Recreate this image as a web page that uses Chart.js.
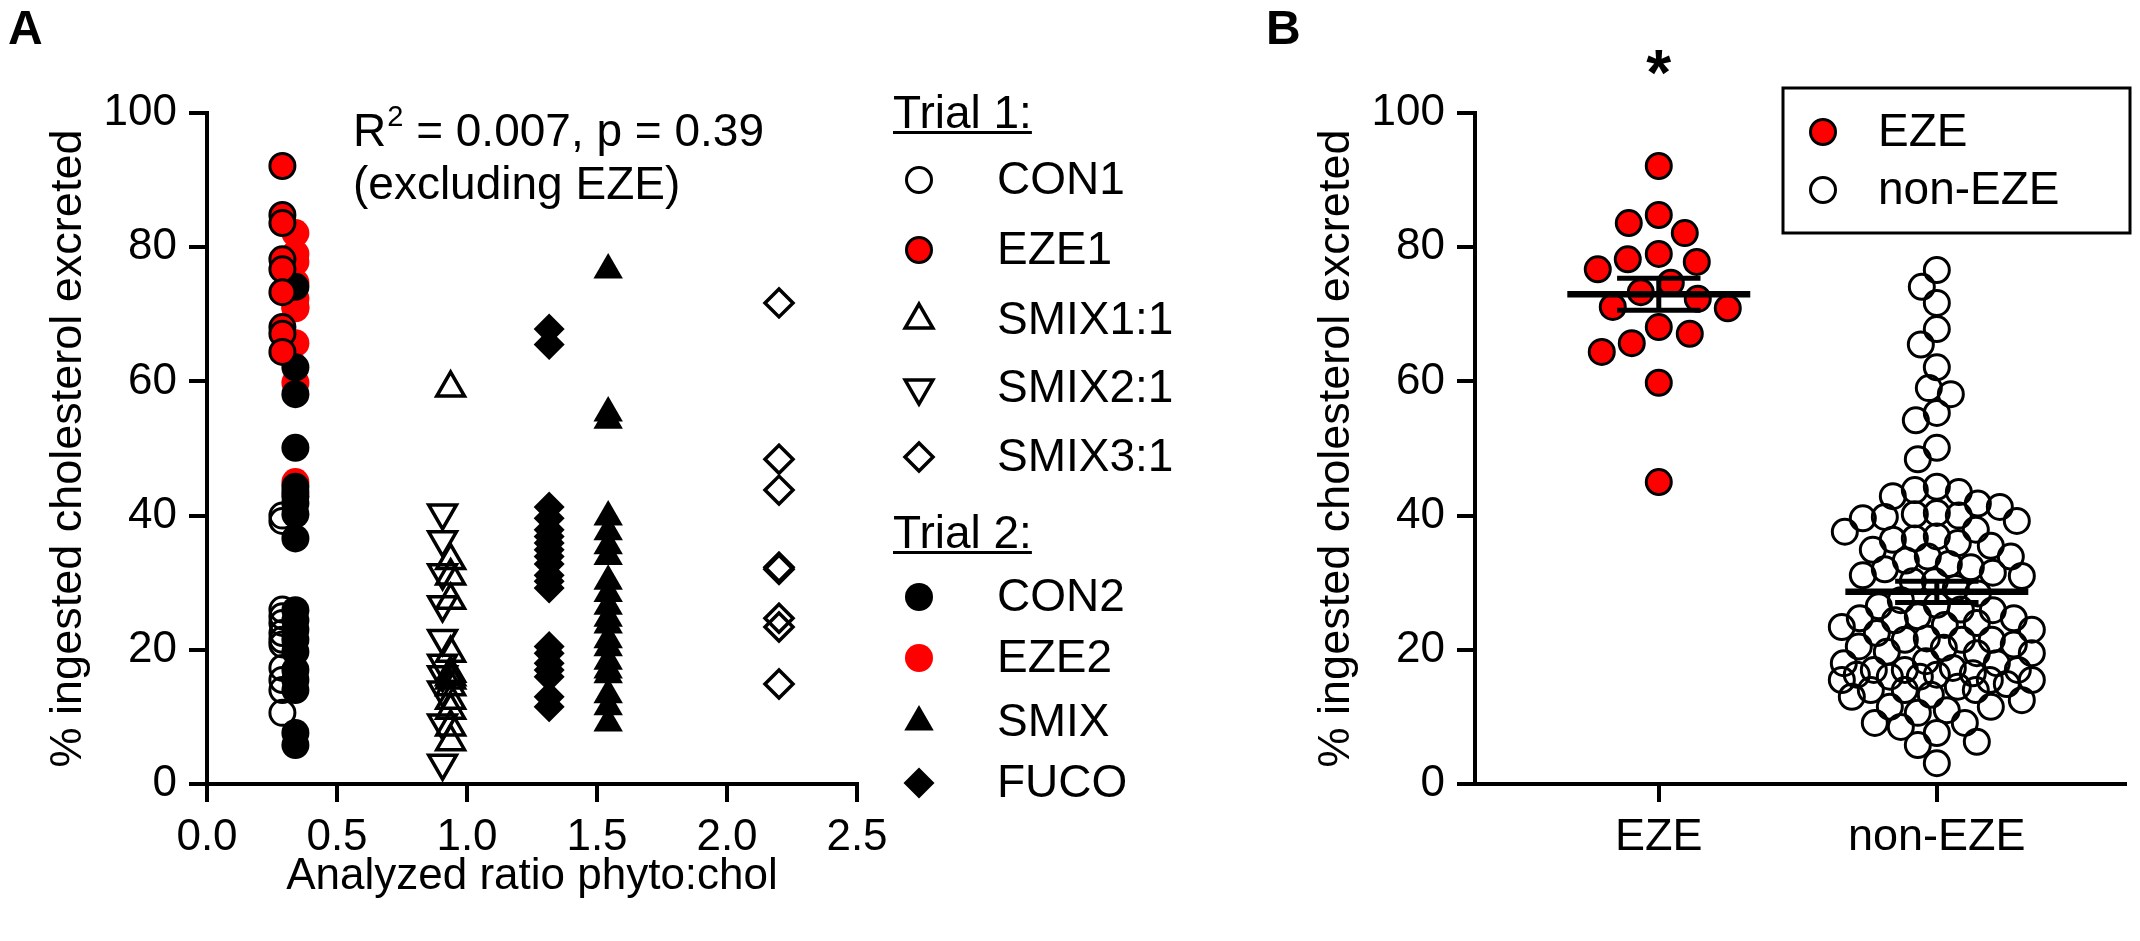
<!DOCTYPE html>
<html>
<head>
<meta charset="utf-8">
<script src="https://cdn.jsdelivr.net/npm/chart.js@4.4.1/dist/chart.umd.min.js"></script>
<style>
  html, body { margin: 0; padding: 0; background: #fff; overflow: hidden; }
  canvas { position: absolute; top: 0; }
  #chartA { left: 0; }
  #chartB { left: 1240px; }
</style>
</head>
<body>
<canvas id="chartA" width="1240" height="941"></canvas>
<canvas id="chartB" width="900" height="941"></canvas>
<script>
// ---------- data ----------
// Panel A: analyzed phyto:chol ratio of each diet group
var groupNames  = ["CON1", "EZE1", "SMIX1:1", "SMIX2:1", "SMIX3:1", "CON2", "EZE2", "SMIX", "FUCO"];
var groupRatios = [0.29, 0.29, 0.937, 0.906, 2.2, 0.34, 0.34, 1.543, 1.316];

// % ingested cholesterol excreted, per mouse
var con1   = [40.0, 39.2, 26.0, 25.0, 24.0, 22.5, 21.5, 20.8, 17.3, 15.5, 14.0, 10.6];
var eze1   = [92.1, 84.8, 83.6, 78.2, 76.7, 73.3, 68.1, 67.1, 64.4];
var smix11 = [59.0, 33.3, 31.0, 27.4, 19.5, 16.5, 16.0, 15.5, 14.5, 12.5, 11.0, 8.5, 6.3];
var smix21 = [40.4, 36.4, 31.5, 26.7, 21.7, 18.0, 16.3, 14.0, 9.1, 3.1];
var smix31 = [71.7, 48.4, 43.8, 32.3, 32.0, 24.7, 23.4, 14.9];
var con2   = [74.1, 62.1, 58.1, 50.1, 44.3, 43.5, 42.9, 41.8, 40.2, 36.6, 25.9, 24.4, 23.0, 21.5, 19.7, 17.0, 15.5, 14.0, 7.6, 5.8];
var eze2   = [82.1, 79.0, 77.8, 74.7, 72.3, 71.1, 70.9, 65.7, 59.8, 45.0];
var smix   = [76.6, 55.3, 54.2, 39.8, 37.6, 35.5, 33.9, 30.2, 28.4, 26.5, 24.7, 23.7, 21.5, 20.3, 18.3, 17.0, 16.3, 13.3, 11.5, 9.1];
var fuco   = [67.8, 65.5, 41.3, 39.6, 37.9, 36.9, 35.9, 34.9, 33.9, 32.8, 31.1, 30.2, 29.2, 20.5, 19.5, 18.0, 17.0, 16.0, 13.0, 11.5];

var xTicksA      = [0, 0.5, 1, 1.5, 2, 2.5];
var xTickLabelsA = ["0.0", "0.5", "1.0", "1.5", "2.0", "2.5"];
var yTicks       = [0, 20, 40, 60, 80, 100];

// Panel B
var categoriesB  = ["EZE", "non-EZE"];
var ezeValues    = eze1.concat(eze2);
var nonEzeValues = con1.concat(con2, smix11, smix21, smix31, smix, fuco);

var statsText = ["R", "2", " = 0.007, p = 0.39", "(excluding EZE)"];

// ---------- styles ----------
var RED = "#ff0000";
var FONT = '"Liberation Sans", Arial, Helvetica, sans-serif';
Chart.defaults.font.family = FONT;
Chart.defaults.font.size = 44;
Chart.defaults.color = "#000";

var groupStyles = [
  { pointStyle: "circle",   radius: 12.5, backgroundColor: "rgba(0,0,0,0)", borderWidth: 3 },
  { pointStyle: "circle",   radius: 12.5, backgroundColor: RED,             borderWidth: 3 },
  { pointStyle: "triangle", radius: 16,   backgroundColor: "rgba(0,0,0,0)", borderWidth: 3.5 },
  { pointStyle: "triangle", radius: 16,   backgroundColor: "rgba(0,0,0,0)", borderWidth: 3.5, rotation: 180 },
  { pointStyle: "rectRot",  radius: 14,   backgroundColor: "rgba(0,0,0,0)", borderWidth: 3.5 },
  { pointStyle: "circle",   radius: 14,   backgroundColor: "#000",          borderWidth: 0 },
  { pointStyle: "circle",   radius: 14,   backgroundColor: RED,             borderWidth: 0 },
  { pointStyle: "triangle", radius: 17,   backgroundColor: "#000",          borderWidth: 0 },
  { pointStyle: "rectRot",  radius: 15.5, backgroundColor: "#000",          borderWidth: 0 }
];
// drawing order (lower = on top)
var groupOrder = [4, 0, 3, 3, 3, 1, 2, 2, 2];
var groupValues = [con1, eze1, smix11, smix21, smix31, con2, eze2, smix, fuco];

function axisY(width, titlePad) {
  return {
    type: "linear", min: 0, max: 100,
    afterBuildTicks: function (s) { s.ticks = yTicks.map(function (v) { return { value: v }; }); },
    afterFit: function (s) { s.width = width; },
    ticks: { padding: 12, font: { size: 44 } },
    grid: { drawOnChartArea: false, drawTicks: true, tickLength: 18, lineWidth: 4, color: "#000" },
    border: { display: true, width: 4, color: "#000" },
    title: { display: true, text: "% ingested cholesterol excreted", font: { size: 45 }, padding: { top: titlePad, bottom: 0 } }
  };
}

function symbol(ctx, s, x, y) {
  var r = s.radius, rot = (s.rotation || 0) * Math.PI / 180;
  ctx.save();
  ctx.beginPath();
  if (s.pointStyle === "circle") {
    ctx.arc(x, y, r, 0, 2 * Math.PI);
  } else if (s.pointStyle === "triangle") {
    for (var k = 0; k < 3; k++) {
      var a = rot + k * 2 * Math.PI / 3;
      var px = x + Math.sin(a) * r, py = y - Math.cos(a) * r;
      if (k) ctx.lineTo(px, py); else ctx.moveTo(px, py);
    }
    ctx.closePath();
  } else {
    ctx.moveTo(x - r, y); ctx.lineTo(x, y - r); ctx.lineTo(x + r, y); ctx.lineTo(x, y + r);
    ctx.closePath();
  }
  ctx.fillStyle = s.backgroundColor;
  ctx.fill();
  if (s.borderWidth) { ctx.lineWidth = s.borderWidth; ctx.strokeStyle = "#000"; ctx.stroke(); }
  ctx.restore();
}

function header(ctx, text, x, base) {
  ctx.font = "46px " + FONT;
  ctx.textBaseline = "alphabetic";
  ctx.textAlign = "left";
  ctx.fillText(text, x, base);
  var w = ctx.measureText(text).width;
  ctx.fillRect(x, base + 3, w, 3);
}

// ---------- panel A ----------
var legendRowsA = [180, 250, 320, 388, 457, 597, 658, 722, 783];

var annotA = {
  id: "annotA",
  afterDraw: function (chart) {
    var ctx = chart.ctx;
    ctx.save();
    ctx.fillStyle = "#000";
    // panel letter
    ctx.font = "bold 48px " + FONT;
    ctx.textBaseline = "alphabetic";
    ctx.fillText("A", 8, 44);
    // regression note
    ctx.font = "46px " + FONT;
    var x = 353;
    ctx.fillText(statsText[0], x, 146);
    x += ctx.measureText(statsText[0]).width + 1;
    ctx.font = "29px " + FONT;
    ctx.fillText(statsText[1], x, 126);
    x += ctx.measureText(statsText[1]).width;
    ctx.font = "46px " + FONT;
    ctx.fillText(statsText[2], x, 146);
    ctx.fillText(statsText[3], 353, 199);
    // legend
    header(ctx, "Trial 1:", 893, 128);
    header(ctx, "Trial 2:", 893, 548);
    ctx.font = "46px " + FONT;
    ctx.textBaseline = "middle";
    for (var i = 0; i < groupNames.length; i++) {
      symbol(ctx, groupStyles[i], 919, legendRowsA[i]);
      ctx.fillStyle = "#000";
      ctx.fillText(groupNames[i], 997, legendRowsA[i] + 1);
    }
    ctx.restore();
  }
};

var datasetsA = groupNames.map(function (name, i) {
  var st = groupStyles[i];
  return {
    label: name,
    data: groupValues[i].map(function (v) { return { x: groupRatios[i], y: v }; }),
    pointStyle: st.pointStyle,
    pointRadius: st.radius,
    pointRotation: st.rotation || 0,
    pointBackgroundColor: st.backgroundColor,
    pointBorderColor: "#000",
    pointBorderWidth: st.borderWidth,
    order: groupOrder[i]
  };
});

new Chart(document.getElementById("chartA"), {
  type: "scatter",
  data: { datasets: datasetsA },
  options: {
    responsive: false, animation: false, events: [],
    layout: { padding: { top: 113, right: 383, bottom: 0, left: 0 } },
    plugins: { legend: { display: false }, tooltip: { enabled: false } },
    scales: {
      x: {
        type: "linear", min: 0, max: 2.5,
        afterBuildTicks: function (s) { s.ticks = xTicksA.map(function (v) { return { value: v }; }); },
        afterFit: function (s) { s.height = 157; },
        ticks: {
          padding: 9, font: { size: 44 },
          callback: function (v) { return xTickLabelsA[xTicksA.indexOf(v)]; }
        },
        grid: { drawOnChartArea: false, drawTicks: true, tickLength: 18, lineWidth: 4, color: "#000" },
        border: { display: true, width: 4, color: "#000" },
        title: { display: true, text: "Analyzed ratio phyto:chol", font: { size: 44 }, padding: { top: 0, bottom: 38 } }
      },
      y: axisY(207, 42)
    }
  },
  plugins: [annotA]
});

// ---------- panel B ----------
function mean(a) { return a.reduce(function (s, v) { return s + v; }, 0) / a.length; }
function sem(a) {
  var m = mean(a);
  var ss = a.reduce(function (s, v) { return s + (v - m) * (v - m); }, 0);
  return Math.sqrt(ss / (a.length - 1)) / Math.sqrt(a.length);
}

function statLines(c, vals) {
  var m = mean(vals), e = sem(vals);
  var line = { type: "line", showLine: true, pointRadius: 0, borderColor: "#000", borderCapStyle: "butt", order: 0, fill: false };
  return [
    Object.assign({}, line, { data: [{ x: c - 0.329, y: m }, { x: c + 0.329, y: m }], borderWidth: 6.5 }),
    Object.assign({}, line, { data: [{ x: c - 0.15, y: m + e }, { x: c + 0.15, y: m + e }], borderWidth: 5 }),
    Object.assign({}, line, { data: [{ x: c - 0.15, y: m - e }, { x: c + 0.15, y: m - e }], borderWidth: 5 }),
    Object.assign({}, line, { data: [{ x: c, y: m - e }, { x: c, y: m + e }], borderWidth: 5 })
  ];
}

var annotB = {
  id: "annotB",
  afterDraw: function (chart) {
    var ctx = chart.ctx;
    ctx.save();
    ctx.fillStyle = "#000";
    ctx.font = "bold 48px " + FONT;
    ctx.textBaseline = "alphabetic";
    ctx.textAlign = "left";
    ctx.fillText("B", 26, 44);
    // significance mark above EZE
    ctx.font = "bold 64px " + FONT;
    ctx.textAlign = "center";
    ctx.fillText("*", chart.scales.x.getPixelForValue(1), 95);
    // legend box
    ctx.lineWidth = 3;
    ctx.strokeStyle = "#000";
    ctx.strokeRect(543, 88, 347, 145);
    symbol(ctx, { pointStyle: "circle", radius: 12.5, backgroundColor: RED, borderWidth: 3 }, 583, 132);
    symbol(ctx, { pointStyle: "circle", radius: 12.5, backgroundColor: "rgba(0,0,0,0)", borderWidth: 3 }, 583, 190);
    ctx.fillStyle = "#000";
    ctx.font = "46px " + FONT;
    ctx.textAlign = "left";
    ctx.textBaseline = "middle";
    ctx.fillText(categoriesB[0], 638, 133);
    ctx.fillText(categoriesB[1], 638, 191);
    ctx.restore();
  }
};

var chartB = new Chart(document.getElementById("chartB"), {
  type: "scatter",
  data: {
    datasets: [
      {
        label: categoriesB[0],
        data: ezeValues.map(function (v) { return { x: 1, y: v }; }),
        pointRadius: 12.5, pointBackgroundColor: RED, pointBorderColor: "#000", pointBorderWidth: 3, order: 2
      },
      {
        label: categoriesB[1],
        data: nonEzeValues.map(function (v) { return { x: 2, y: v }; }),
        pointRadius: 12.5, pointBackgroundColor: "rgba(0,0,0,0)", pointBorderColor: "#000", pointBorderWidth: 3, order: 2
      }
    ].concat(statLines(1, ezeValues), statLines(2, nonEzeValues))
  },
  options: {
    responsive: false, animation: false, events: [],
    layout: { padding: { top: 113, right: 11, bottom: 0, left: 0 } },
    plugins: { legend: { display: false }, tooltip: { enabled: false } },
    scales: {
      x: {
        type: "linear", min: 0.339, max: 2.675,
        afterBuildTicks: function (s) { s.ticks = [{ value: 1 }, { value: 2 }]; },
        afterFit: function (s) { s.height = 157; },
        ticks: { padding: 9, font: { size: 45 }, callback: function (v) { return categoriesB[v - 1]; } },
        grid: { drawOnChartArea: false, drawTicks: true, tickLength: 18, lineWidth: 4, color: "#000" },
        border: { display: true, width: 4, color: "#000" }
      },
      y: axisY(235, 70)
    }
  },
  plugins: [annotB]
});

// beeswarm: nudge each point sideways (in pixels) until it clears the ones already placed
function swarm(values, centre, minD, maxOff) {
  var xs = chartB.scales.x, ys = chartB.scales.y;
  var ppx = xs.getPixelForValue(1) - xs.getPixelForValue(0);
  var idx = values.map(function (v, i) { return i; }).sort(function (a, b) { return values[b] - values[a]; });
  var placed = [], out = [];
  idx.forEach(function (i) {
    var py = ys.getPixelForValue(values[i]);
    var best = 0, bestD = -1, done = false;
    for (var o = 0; o <= maxOff && !done; o += 1) {
      var cands = o ? [-o, o] : [0];
      for (var j = 0; j < cands.length; j++) {
        var dmin = Infinity;
        for (var q = 0; q < placed.length; q++) {
          var d = Math.hypot(placed[q].ox - cands[j], placed[q].py - py);
          if (d < dmin) dmin = d;
        }
        if (dmin >= minD) { best = cands[j]; done = true; break; }
        if (dmin > bestD) { bestD = dmin; best = cands[j]; }
      }
    }
    placed.push({ ox: best, py: py });
    out[i] = centre + best / ppx;
  });
  return out;
}

var ezeX = swarm(ezeValues, 1, 31, 80);
var nonX = swarm(nonEzeValues, 2, 22, 95);
chartB.data.datasets[0].data.forEach(function (p, i) { p.x = ezeX[i]; });
chartB.data.datasets[1].data.forEach(function (p, i) { p.x = nonX[i]; });
chartB.update("none");
</script>
</body>
</html>
